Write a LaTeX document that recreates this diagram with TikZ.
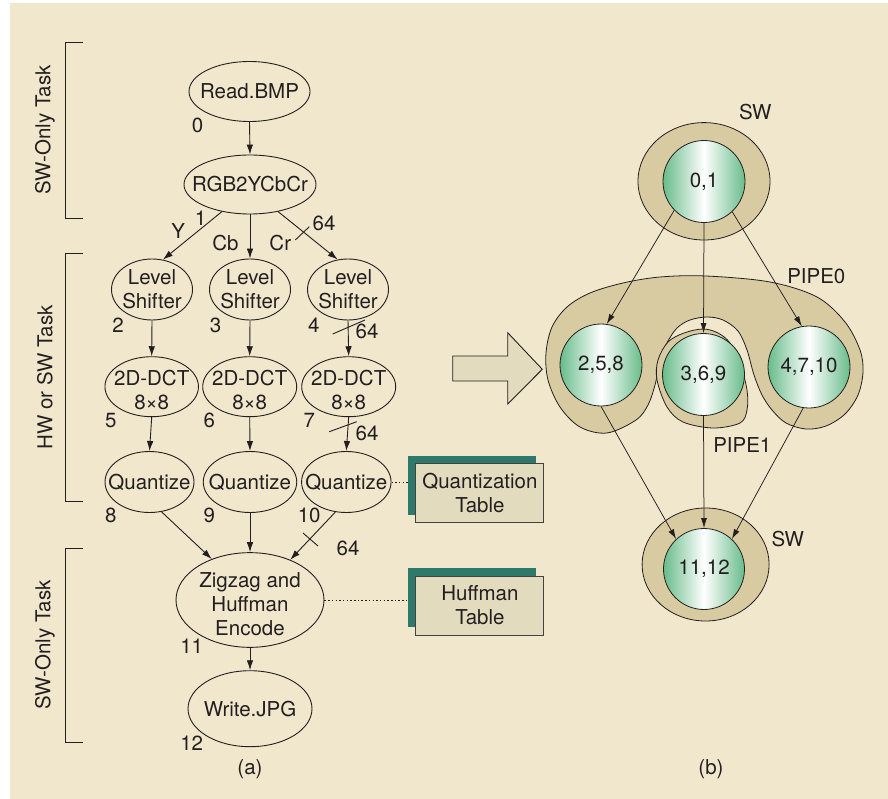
\documentclass[tikz,border=0pt]{standalone}
\usepackage{fontspec}
\setmainfont{TeX Gyre Heros}
\usetikzlibrary{shapes.geometric,arrows.meta,calc}
\definecolor{bgc}{RGB}{241,231,205}
\definecolor{tanc}{RGB}{216,203,162}
\definecolor{boxc}{RGB}{227,219,189}
\definecolor{tealc}{RGB}{46,122,106}
\definecolor{inkc}{RGB}{35,31,32}
\definecolor{cgreen}{RGB}{104,188,138}
\begin{document}
\begin{tikzpicture}[x=1pt,y=-1pt,
  font=\fontsize{20.5}{24}\selectfont, color=inkc,
  task/.style={ellipse, draw=inkc, line width=0.9pt, inner sep=0pt},
  lbl/.style={align=center, inner sep=0pt, text=inkc},
  num/.style={inner sep=0pt},
  arr/.style={-{Latex[length=10pt,width=6.5pt]}, line width=0.9pt},
  rarr/.style={-{Latex[length=10pt,width=6pt]}, line width=0.75pt},
  tick/.style={line width=0.9pt},
  brk/.style={line width=1pt},
  shbox/.style={rectangle, fill=tealc, minimum width=128pt, minimum height=59pt, inner sep=0pt},
  tbbox/.style={rectangle, fill=boxc, draw=inkc!85, line width=0.9pt, minimum width=128pt, minimum height=59pt, inner sep=0pt, align=center},
  dots/.style={line width=0.9pt, dash pattern=on 1.5pt off 2.2pt},
  blob/.style={fill=tanc, draw=inkc, line width=0.8pt},
  ball/.style={circle, draw=inkc, line width=0.8pt, minimum size=82pt, inner sep=0pt, left color=cgreen, right color=cgreen, middle color=white},
]
% background
\fill[white] (0,0) rectangle (888,799);
\fill[bgc] (10,3) rectangle (888,799);

% brackets
\draw[brk] (83,42.5) -- (65.7,42.5) -- (65.7,219) -- (83,219);
\draw[brk] (83,254) -- (65.7,254) -- (65.7,501) -- (83,501);
\draw[brk] (83,548) -- (65.7,548) -- (65.7,742) -- (83,742);
\node[rotate=90] (br1) at (45,130) {SW-Only Task};
\node[rotate=90] (br2) at (45,377.5) {HW or SW Task};
\node[rotate=90] (br3) at (45,645) {SW-Only Task};

% left task graph
\node[task, minimum width=121pt, minimum height=60pt, label={[lbl]center:Read.BMP}] (read) at (249.5,91.5) {};
\node[task, minimum width=132pt, minimum height=59pt, label={[lbl]center:RGB2YCbCr}] (rgb) at (250,184.5) {};
\node[task, minimum width=81pt, minimum height=61pt, label={[lbl]center:Level\\Shifter}] (ls1) at (152,289.5) {};
\node[task, minimum width=81pt, minimum height=61pt, label={[lbl]center:Level\\Shifter}] (ls2) at (250,289.5) {};
\node[task, minimum width=81pt, minimum height=61pt, label={[lbl]center:Level\\Shifter}] (ls3) at (348,289.5) {};
\node[task, minimum width=93.5pt, minimum height=60pt, label={[lbl,yshift=-3pt]center:2D-DCT\\8×8}] (dct1) at (151.7,386.7) {};
\node[task, minimum width=94pt, minimum height=60pt, label={[lbl,yshift=-3pt]center:2D-DCT\\8×8}] (dct2) at (249.7,386.7) {};
\node[task, minimum width=94pt, minimum height=60pt, label={[lbl,yshift=-3pt]center:2D-DCT\\8×8}] (dct3) at (348.7,386.7) {};
\node[task, minimum width=89pt, minimum height=61pt, label={[lbl]center:Quantize}] (q1) at (149.5,482) {};
\node[task, minimum width=93.5pt, minimum height=61pt, label={[lbl]center:Quantize}] (q2) at (250,482) {};
\node[task, minimum width=89.5pt, minimum height=61pt, label={[lbl]center:Quantize}] (q3) at (346.3,482) {};
\node[task, minimum width=148pt, minimum height=94.7pt, label={[lbl,yshift=-4pt]center:Zigzag and\\Huffman\\Encode}] (zz) at (250,600) {};
\node[task, minimum width=124pt, minimum height=76pt, label={[lbl]center:Write.JPG}] (wj) at (250,708.7) {};

% numbers
\node[num] (n0) at (197.5,125.5) {0};
\node[num] (n1) at (200.5,218) {1};
\node[num] (n2) at (118,325.3) {2};
\node[num] (n3) at (215.5,325.3) {3};
\node[num] (n4) at (313.7,325.3) {4};
\node[num] (n5) at (110.8,420.5) {5};
\node[num] (n6) at (209.2,420.5) {6};
\node[num] (n7) at (309.2,420.5) {7};
\node[num] (n8) at (110.8,515.5) {8};
\node[num] (n9) at (209.2,515.5) {9};
\node[num] (n10) at (309.2,515.5) {10};
\node[num] (n11) at (191.7,646.7) {11};
\node[num] (n12) at (191.7,743.3) {12};
\node[num] (capa) at (250,768.7) {(a)};

% edge labels
\node[num] (ly) at (178.3,231.5) {Y};
\node[num] (lcb) at (225.5,243.3) {Cb};
\node[num] (lcr) at (280.3,243.3) {Cr};
\node[num] (w1) at (324,223) {64};
\node[num] (w2) at (367,331) {64};
\node[num] (w3) at (367,433) {64};
\node[num] (w4) at (348,548.7) {64};

% left edges
\draw[arr] (read.south) -- (rgb.north);
\draw[arr] (rgb.224) -- (ls1.70);
\draw[arr] (rgb.south) -- (ls2.north);
\draw[arr] (rgb.-44) -- (ls3.109);
\draw[arr] (ls1.south) -- (dct1.north);
\draw[arr] (ls2.south) -- (dct2.north);
\draw[arr] (ls3.south) -- (dct3.north);
\draw[arr] (dct1.south) -- (q1.north);
\draw[arr] (dct2.south) -- (q2.north);
\draw[arr] (dct3.south) -- (q3.north);
\draw[arr] (q1.-68) -- (zz.133);
\draw[arr] (q2.south) -- (zz.north);
\draw[arr] (q3.250) -- (zz.45);
\draw[arr] (zz.south) -- (wj.north);

% bus-width ticks
\draw[tick] (295.3,240) -- (309.3,226.7);
\draw[tick] (332.7,334) -- (365,320);
\draw[tick] (329.3,431.7) -- (356.7,421.7);
\draw[tick] (303,533) -- (318,546);

% tables
\node[shbox] (qtsh) at (472,485.5) {};
\node[tbbox] (qt) at (479.9,493.3) {Quantization\\Table};
\node[shbox] (htsh) at (472,597.5) {};
\node[tbbox] (ht) at (479.9,605.5) {Huffman\\Table};
\draw[dots] (q3.east) -- (q3.east -| qtsh.west);
\draw[dots] (zz.east) -- (zz.east -| htsh.west);

% block arrow
\draw[fill=boxc, line width=0.9pt, line join=miter] (452.7,356) -- (507.7,356) -- (507.7,332.7) -- (542.3,369.3) -- (507.7,404) -- (507.7,381) -- (452.7,381) -- cycle;

% right side blobs
\draw[blob] plot[smooth cycle, tension=0.55] coordinates {
 (706,276) (770,282) (817,297) (845,322) (860,350) (863,372) (858,395) (845,414) (826,426) (806,429) (786,423) (772,410) (762,395) (754,375) (747,350) (738,331) (723,320) (707,317) (690,320) (677,328) (667,343) (660,362) (655,385) (648,405) (636,420) (607,433) (580,427) (560,407) (548,380) (546,353) (552,327) (567,307) (590,293) (623,283) (660,277)};
\draw[blob] plot[smooth cycle, tension=0.55] coordinates {
 (703,329) (718,333) (730,343) (740,363) (747,390) (747,410) (740,423) (713,428) (683,422) (667,407) (657,380) (658,360) (668,342) (684,333)};
\draw[blob] (704,181.3) ellipse [x radius=66, y radius=58.7];
\draw[blob] (705.6,564.5) ellipse [x radius=63.5, y radius=56.5];

% circles
\node[ball] (c01) at (704,181.5) {0,1};
\node[ball] (c258) at (601,365) {2,5,8};
\node[ball] (c369) at (703.5,374.5) {3,6,9};
\node[ball] (c4710) at (809,367) {4,7,10};
\node[ball, minimum size=81pt] (c1112) at (704,569) {11,12};

% right labels
\node[num] (sw1) at (755.3,111.7) {SW};
\node[num] (pp0) at (816.3,276.2) {PIPE0};
\node[num] (pp1) at (742.3,445.3) {PIPE1};
\node[num] (sw2) at (787.8,539.2) {SW};
\node[num] (capb) at (711,768.7) {(b)};

% right edges
\draw[rarr] (c01.224.5) -- (c258.82);
\draw[rarr] (c01.south) -- (c369.north);
\draw[rarr] (c01.-47.4) -- (c4710.100);
\draw[rarr] (c258.south) -- (c1112.133.5);
\draw[rarr] (c369.south) -- (c1112.north);
\draw[rarr] (c4710.262) -- (c1112.47.8);
\end{tikzpicture}
\end{document}
